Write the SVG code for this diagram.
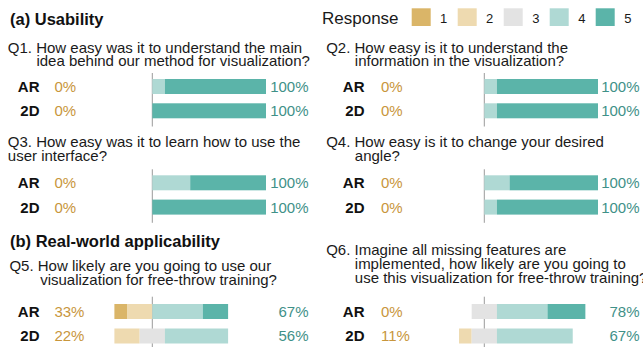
<svg xmlns="http://www.w3.org/2000/svg" width="643" height="347" viewBox="0 0 643 347">
<style>
text{font-family:"Liberation Sans",Arial,sans-serif;}
.h{font-size:16.5px;font-weight:bold;fill:#111;}
.q{font-size:15px;fill:#1a1a1a;}
.lab{font-size:15px;font-weight:bold;fill:#111;text-anchor:end;}
.neg{font-size:15px;fill:#c8963c;}
.pos{font-size:15px;fill:#3f9188;text-anchor:end;}
.leg{font-size:17px;fill:#1a1a1a;}
.legn{font-size:13px;fill:#1a1a1a;}
.axis{stroke:#9a9a9a;stroke-width:1;}
.c1{fill:#dab568;}
.c2{fill:#eedab0;}
.c3{fill:#e3e3e3;}
.c4{fill:#afd9d4;}
.c5{fill:#5bb4a9;}
</style>
<rect width="643" height="347" fill="#ffffff"/>

<g id="headings">
<text class="h" x="10" y="24.5">(a) Usability</text>
<text class="h" x="10" y="246.5">(b) Real-world applicability</text>
</g>

<g id="legend">
<text class="leg" x="322" y="23.5">Response</text>
<rect class="c1" x="411.7" y="8.3" width="19" height="17.7"/>
<text class="legn" x="440" y="22.7">1</text>
<rect class="c2" x="457.7" y="8.3" width="19" height="17.7"/>
<text class="legn" x="486" y="22.7">2</text>
<rect class="c3" x="503.7" y="8.3" width="19" height="17.7"/>
<text class="legn" x="532.3" y="22.7">3</text>
<rect class="c4" x="549.7" y="8.3" width="19" height="17.7"/>
<text class="legn" x="578.3" y="22.7">4</text>
<rect class="c5" x="595.7" y="8.3" width="19" height="17.7"/>
<text class="legn" x="624.3" y="22.7">5</text>
</g>

<g id="connectors">
<line class="axis" x1="152.3" y1="73" x2="152.3" y2="126.5"/>
<line class="axis" x1="484.3" y1="73" x2="484.3" y2="126.5"/>
<line class="axis" x1="152.3" y1="169.3" x2="152.3" y2="222.8"/>
<line class="axis" x1="484.3" y1="169.3" x2="484.3" y2="222.8"/>
<line class="axis" x1="152.3" y1="296.7" x2="152.3" y2="347"/>
<line class="axis" x1="484.3" y1="296.7" x2="484.3" y2="347"/>
</g>

<g id="q1">
<text class="q" x="7.8" y="52.5">Q1. How easy was it to understand the main</text>
<text class="q" x="36.4" y="65.5">idea behind our method for visualization?</text>
<text class="lab" x="39.5" y="91.8">AR</text>
<text class="neg" x="54.4" y="91.8">0%</text>
<rect class="c4" x="152.3" y="79" width="12.63" height="15"/>
<rect class="c5" x="164.93" y="79" width="101.07" height="15"/>
<text class="pos" x="308.5" y="91.8">100%</text>
<text class="lab" x="39.5" y="116.2">2D</text>
<text class="neg" x="54.4" y="116.2">0%</text>
<rect class="c5" x="152.3" y="103.3" width="113.7" height="15"/>
<text class="pos" x="308.5" y="116.2">100%</text>
</g>

<g id="q2">
<text class="q" x="326.2" y="52.5">Q2. How easy is it to understand the</text>
<text class="q" x="354.8" y="65.5">information in the visualization?</text>
<text class="lab" x="364.5" y="91.8">AR</text>
<text class="neg" x="381" y="91.8">0%</text>
<rect class="c4" x="484.3" y="79" width="12.63" height="15"/>
<rect class="c5" x="496.93" y="79" width="101.07" height="15"/>
<text class="pos" x="639.5" y="91.8">100%</text>
<text class="lab" x="364.5" y="116.2">2D</text>
<text class="neg" x="381" y="116.2">0%</text>
<rect class="c4" x="484.3" y="103.3" width="12.63" height="15"/>
<rect class="c5" x="496.93" y="103.3" width="101.07" height="15"/>
<text class="pos" x="639.5" y="116.2">100%</text>
</g>

<g id="q3">
<text class="q" x="7.8" y="147">Q3. How easy was it to learn how to use the</text>
<text class="q" x="7.8" y="160.7">user interface?</text>
<text class="lab" x="39.5" y="188.1">AR</text>
<text class="neg" x="54.4" y="188.1">0%</text>
<rect class="c4" x="152.3" y="175.3" width="37.9" height="15"/>
<rect class="c5" x="190.2" y="175.3" width="75.8" height="15"/>
<text class="pos" x="308.5" y="188.1">100%</text>
<text class="lab" x="39.5" y="212.5">2D</text>
<text class="neg" x="54.4" y="212.5">0%</text>
<rect class="c5" x="152.3" y="199.6" width="113.7" height="15"/>
<text class="pos" x="308.5" y="212.5">100%</text>
</g>

<g id="q4">
<text class="q" x="326.2" y="147">Q4. How easy is it to change your desired</text>
<text class="q" x="354.8" y="160.7">angle?</text>
<text class="lab" x="364.5" y="188.1">AR</text>
<text class="neg" x="381" y="188.1">0%</text>
<rect class="c4" x="484.3" y="175.3" width="25.27" height="15"/>
<rect class="c5" x="509.57" y="175.3" width="88.43" height="15"/>
<text class="pos" x="639.5" y="188.1">100%</text>
<text class="lab" x="364.5" y="212.5">2D</text>
<text class="neg" x="381" y="212.5">0%</text>
<rect class="c4" x="484.3" y="199.6" width="12.63" height="15"/>
<rect class="c5" x="496.93" y="199.6" width="101.07" height="15"/>
<text class="pos" x="639.5" y="212.5">100%</text>
</g>

<g id="q5">
<text class="q" x="9.4" y="270.7">Q5. How likely are you going to use our</text>
<text class="q" x="40.2" y="284.7">visualization for free-throw training?</text>
<text class="lab" x="39.5" y="316.8">AR</text>
<text class="neg" x="54.4" y="316.8">33%</text>
<rect class="c1" x="114.4" y="304" width="12.63" height="15"/>
<rect class="c2" x="127.03" y="304" width="25.27" height="15"/>
<rect class="c4" x="152.3" y="304" width="50.53" height="15"/>
<rect class="c5" x="202.83" y="304" width="25.27" height="15"/>
<text class="pos" x="308.5" y="316.8">67%</text>
<text class="lab" x="39.5" y="341.3">2D</text>
<text class="neg" x="54.4" y="341.3">22%</text>
<rect class="c2" x="114.4" y="328.5" width="25.27" height="15"/>
<rect class="c3" x="139.67" y="328.5" width="25.27" height="15"/>
<rect class="c4" x="164.93" y="328.5" width="63.17" height="15"/>
<text class="pos" x="308.5" y="341.3">56%</text>
</g>

<g id="q6">
<text class="q" x="326.2" y="255">Q6. Imagine all missing features are</text>
<text class="q" x="354.8" y="269">implemented, how likely are you going to</text>
<text class="q" x="354.8" y="283.3">use this visualization for free-throw training?</text>
<text class="lab" x="364.5" y="316.8">AR</text>
<text class="neg" x="381" y="316.8">0%</text>
<rect class="c3" x="471.67" y="304" width="25.27" height="15"/>
<rect class="c4" x="496.93" y="304" width="50.53" height="15"/>
<rect class="c5" x="547.47" y="304" width="37.9" height="15"/>
<text class="pos" x="639.5" y="316.8">78%</text>
<text class="lab" x="364.5" y="341.3">2D</text>
<text class="neg" x="381" y="341.3">11%</text>
<rect class="c2" x="459.03" y="328.5" width="12.63" height="15"/>
<rect class="c3" x="471.67" y="328.5" width="25.27" height="15"/>
<rect class="c4" x="496.93" y="328.5" width="75.8" height="15"/>
<text class="pos" x="639.5" y="341.3">67%</text>
</g>
</svg>
